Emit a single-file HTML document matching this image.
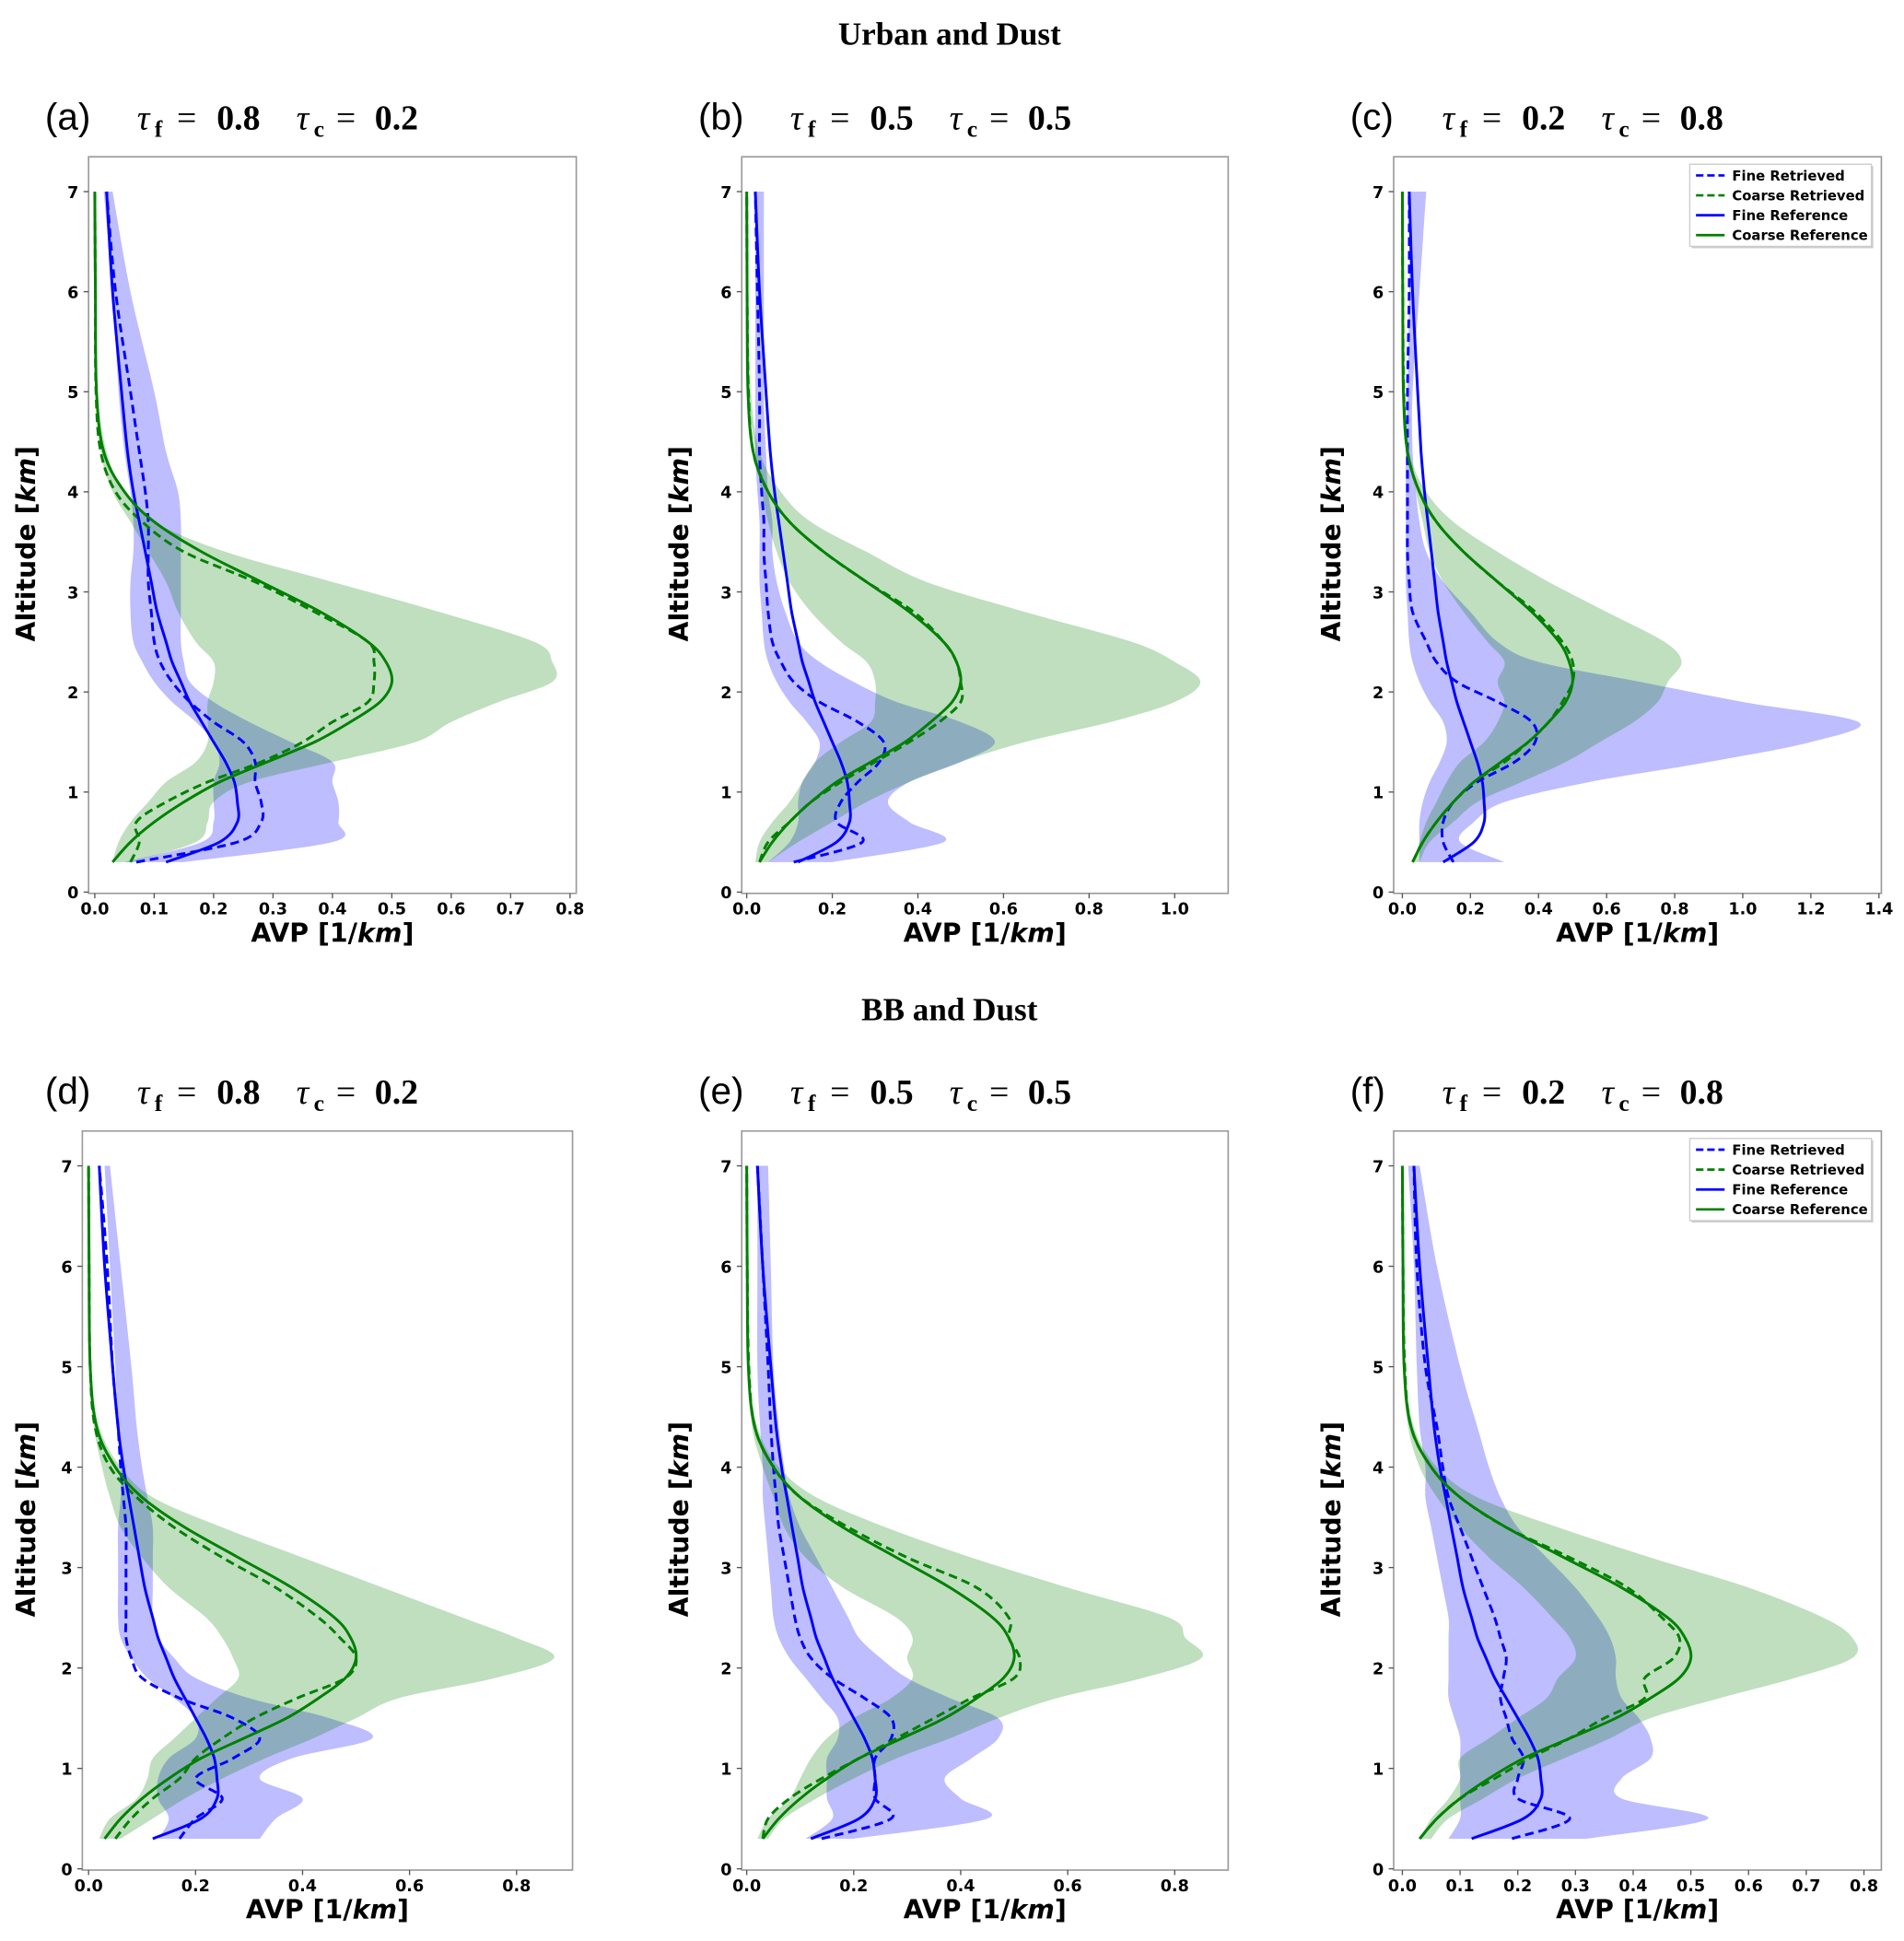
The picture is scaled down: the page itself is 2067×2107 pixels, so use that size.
<!DOCTYPE html>
<html><head><meta charset="utf-8"><style>
html,body{margin:0;padding:0;background:#fff;}
svg{display:block;}
</style></head><body>
<svg id="fig" width="2067" height="2107" viewBox="0 0 1530 1560" xmlns="http://www.w3.org/2000/svg">
<text x="763" y="36" text-anchor="middle" font-family="Liberation Serif, serif" font-weight="bold" font-size="26">Urban and Dust</text>
<text x="763" y="820" text-anchor="middle" font-family="Liberation Serif, serif" font-weight="bold" font-size="26">BB and Dust</text>
</svg>
<script>
const alts = [0.3,0.5,0.7,0.9,1.1,1.3,1.5,1.7,1.9,2.1,2.3,2.5,2.8,3.1,3.4,3.7,4.0,4.4,5.0,6.0,7.0];
const fineRef = [0.12,0.21,0.24,0.24,0.235,0.22,0.2,0.18,0.16,0.145,0.13,0.12,0.105,0.095,0.085,0.075,0.065,0.055,0.045,0.03,0.02];
const coarseRef = [0.03,0.06,0.1,0.15,0.21,0.29,0.37,0.43,0.48,0.5,0.49,0.46,0.38,0.28,0.18,0.1,0.05,0.015,0.003,0.001,0];

const aFineRet = [0.07,0.24,0.28,0.28,0.27,0.27,0.25,0.2,0.16,0.13,0.11,0.1,0.095,0.09,0.09,0.09,0.085,0.075,0.06,0.035,0.02];
const aCoarseRet = [0.06,0.075,0.07,0.12,0.19,0.28,0.35,0.4,0.46,0.47,0.47,0.46,0.37,0.27,0.15,0.08,0.035,0.01,0.002,0.001,0];
const aFineLo = [0.05,0.18,0.2,0.2,0.2,0.21,0.2,0.17,0.13,0.1,0.08,0.065,0.06,0.06,0.065,0.065,0.06,0.05,0.04,0.03,0.015];
const aFineHi = [0.15,0.4,0.41,0.41,0.4,0.4,0.33,0.26,0.2,0.16,0.15,0.145,0.145,0.145,0.145,0.145,0.14,0.12,0.1,0.06,0.03];
const aCoarseLo = [0.03,0.04,0.06,0.09,0.12,0.17,0.19,0.19,0.19,0.2,0.2,0.17,0.14,0.12,0.09,0.06,0.03,0.01,0.003,0,0];
const aCoarseHi = [0.06,0.17,0.19,0.2,0.26,0.4,0.54,0.6,0.68,0.77,0.77,0.74,0.58,0.4,0.22,0.1,0.05,0.02,0.005,0.002,0.001];

const bFineRet = [0.11,0.27,0.21,0.22,0.26,0.31,0.32,0.26,0.17,0.11,0.08,0.06,0.05,0.045,0.04,0.04,0.035,0.03,0.03,0.025,0.02];
const bCoarseRet = [0.03,0.05,0.1,0.15,0.22,0.3,0.38,0.45,0.5,0.5,0.49,0.46,0.39,0.28,0.18,0.1,0.05,0.015,0.004,0.001,0];
const bFineLo = [0.05,0.1,0.12,0.12,0.13,0.16,0.17,0.14,0.1,0.07,0.05,0.04,0.035,0.03,0.03,0.03,0.025,0.02,0.02,0.02,0.02];
const bFineHi = [0.2,0.46,0.38,0.33,0.38,0.5,0.58,0.5,0.35,0.25,0.17,0.12,0.09,0.07,0.06,0.06,0.05,0.045,0.04,0.04,0.04];
const bCoarseLo = [0.02,0.03,0.06,0.1,0.13,0.16,0.22,0.29,0.3,0.3,0.28,0.22,0.15,0.1,0.07,0.05,0.035,0.02,0.005,0.002,0];
const bCoarseHi = [0.05,0.12,0.2,0.28,0.38,0.5,0.65,0.85,1.0,1.06,1.0,0.9,0.65,0.42,0.28,0.15,0.08,0.03,0.01,0.003,0.001];

const cFineRet = [0.15,0.12,0.12,0.15,0.22,0.33,0.39,0.38,0.28,0.16,0.1,0.07,0.03,0.02,0.015,0.015,0.015,0.015,0.015,0.02,0.02];
const cCoarseRet = [0.03,0.06,0.1,0.15,0.21,0.3,0.37,0.43,0.47,0.5,0.5,0.47,0.39,0.28,0.18,0.1,0.05,0.015,0.004,0.001,0];
const cFineLo = [0.05,0.05,0.05,0.06,0.08,0.11,0.13,0.12,0.08,0.05,0.03,0.02,0.015,0.01,0.01,0.01,0.01,0.01,0.015,0.02,0.02];
const cFineHi = [0.3,0.17,0.21,0.3,0.55,0.9,1.2,1.34,1.0,0.7,0.4,0.28,0.2,0.12,0.07,0.05,0.04,0.03,0.03,0.05,0.07];
const cCoarseLo = [0.03,0.05,0.07,0.1,0.13,0.17,0.24,0.28,0.3,0.28,0.3,0.25,0.18,0.12,0.08,0.06,0.04,0.02,0.005,0.001,0];
const cCoarseHi = [0.05,0.08,0.15,0.22,0.35,0.48,0.58,0.68,0.75,0.78,0.82,0.77,0.6,0.43,0.28,0.15,0.07,0.02,0.005,0.001,0];

const dFineRet = [0.17,0.2,0.25,0.2,0.27,0.32,0.27,0.17,0.1,0.08,0.07,0.07,0.07,0.07,0.07,0.065,0.06,0.055,0.045,0.035,0.02];
const dCoarseRet = [0.05,0.08,0.12,0.17,0.2,0.25,0.31,0.39,0.48,0.5,0.47,0.43,0.35,0.25,0.16,0.09,0.04,0.012,0.003,0.001,0];
const dFineLo = [0.13,0.15,0.13,0.13,0.15,0.2,0.2,0.16,0.11,0.08,0.06,0.055,0.055,0.055,0.055,0.06,0.06,0.055,0.05,0.04,0.03];
const dFineHi = [0.32,0.35,0.4,0.32,0.38,0.53,0.45,0.3,0.2,0.16,0.13,0.12,0.12,0.12,0.12,0.11,0.1,0.09,0.08,0.06,0.04];
const dCoarseLo = [0.02,0.04,0.09,0.11,0.12,0.16,0.2,0.24,0.28,0.27,0.25,0.22,0.15,0.1,0.06,0.04,0.025,0.01,0.002,0,0];
const dCoarseHi = [0.06,0.12,0.18,0.25,0.33,0.42,0.5,0.58,0.76,0.87,0.8,0.7,0.55,0.4,0.25,0.12,0.06,0.02,0.005,0.001,0];

const eFineRet = [0.14,0.27,0.24,0.24,0.24,0.27,0.27,0.22,0.16,0.12,0.1,0.09,0.08,0.07,0.06,0.055,0.05,0.045,0.04,0.03,0.02];
const eCoarseRet = [0.03,0.04,0.08,0.14,0.21,0.28,0.35,0.42,0.5,0.51,0.49,0.49,0.43,0.3,0.19,0.1,0.05,0.015,0.004,0.001,0];
const eFineLo = [0.11,0.16,0.15,0.15,0.15,0.17,0.17,0.14,0.11,0.08,0.06,0.05,0.045,0.04,0.035,0.03,0.03,0.025,0.02,0.02,0.02];
const eFineHi = [0.2,0.45,0.4,0.37,0.42,0.47,0.47,0.38,0.3,0.25,0.21,0.19,0.16,0.13,0.1,0.08,0.07,0.06,0.05,0.045,0.04];
const eCoarseLo = [0.02,0.04,0.08,0.1,0.12,0.15,0.2,0.27,0.31,0.3,0.31,0.28,0.18,0.11,0.07,0.05,0.03,0.01,0.003,0,0];
const eCoarseHi = [0.04,0.07,0.13,0.2,0.28,0.38,0.47,0.58,0.74,0.85,0.82,0.79,0.6,0.42,0.26,0.13,0.06,0.02,0.004,0.001,0];

const fFineRet = [0.19,0.29,0.2,0.2,0.21,0.19,0.18,0.17,0.175,0.18,0.17,0.16,0.14,0.12,0.1,0.08,0.07,0.06,0.04,0.025,0.02];
const fCoarseRet = [0.03,0.06,0.1,0.16,0.22,0.29,0.35,0.42,0.42,0.47,0.48,0.45,0.39,0.29,0.18,0.1,0.05,0.015,0.004,0.001,0];
const fFineLo = [0.08,0.1,0.1,0.1,0.1,0.1,0.09,0.08,0.08,0.08,0.08,0.08,0.07,0.06,0.05,0.04,0.04,0.03,0.025,0.02,0.01];
const fFineHi = [0.32,0.53,0.38,0.38,0.43,0.43,0.41,0.38,0.37,0.37,0.36,0.34,0.3,0.25,0.2,0.17,0.15,0.13,0.1,0.06,0.03];
const fCoarseLo = [0.03,0.05,0.08,0.1,0.1,0.15,0.2,0.25,0.27,0.3,0.29,0.26,0.21,0.15,0.1,0.06,0.03,0.01,0.002,0,0];
const fCoarseHi = [0.05,0.08,0.14,0.2,0.28,0.36,0.43,0.55,0.68,0.78,0.78,0.73,0.6,0.43,0.27,0.13,0.06,0.02,0.005,0.001,0];

const yTicks = [0,1,2,3,4,5,6,7];
const xTicksA = ["0.0","0.1","0.2","0.3","0.4","0.5","0.6","0.7","0.8"];
const xTicksB = ["0.0","0.2","0.4","0.6","0.8","1.0"];
const xTicksC = ["0.0","0.2","0.4","0.6","0.8","1.0","1.2","1.4"];
const xTicksD = ["0.0","0.2","0.4","0.6","0.8"];
const xTicksF = ["0.0","0.1","0.2","0.3","0.4","0.5","0.6","0.7","0.8"];
const legendLabels = ["Fine Retrieved","Coarse Retrieved","Fine Reference","Coarse Reference"];

const NS = "http://www.w3.org/2000/svg";
const svg = document.getElementById('fig');
function mk(tag, attrs, parent){
  const e = document.createElementNS(NS, tag);
  for (const k in attrs) e.setAttribute(k, attrs[k]);
  (parent||svg).appendChild(e);
  return e;
}
function smoothPath(pts){
  let d = "M" + pts[0][0].toFixed(1) + "," + pts[0][1].toFixed(1);
  for (let i=0;i<pts.length-1;i++){
    const p0 = pts[Math.max(0,i-1)], p1 = pts[i], p2 = pts[i+1], p3 = pts[Math.min(pts.length-1,i+2)];
    const c1x = p1[0]+(p2[0]-p0[0])/6, c1y = p1[1]+(p2[1]-p0[1])/6;
    const c2x = p2[0]-(p3[0]-p1[0])/6, c2y = p2[1]-(p3[1]-p1[1])/6;
    d += " C"+c1x.toFixed(1)+","+c1y.toFixed(1)+" "+c2x.toFixed(1)+","+c2y.toFixed(1)+" "+p2[0].toFixed(1)+","+p2[1].toFixed(1);
  }
  return d;
}

const panels = [
  {id:'a', label:'(a)', tf:'0.8', tc:'0.2', hx:36, left:71, right:463, top:126, bottom:718, x0:76, s:477.5, ticks:xTicksA, fr:aFineRet, cr:aCoarseRet, fl:aFineLo, fh:aFineHi, cl:aCoarseLo, ch:aCoarseHi, legend:false},
  {id:'b', label:'(b)', tf:'0.5', tc:'0.5', hx:561, left:596, right:987, top:126, bottom:718, x0:600, s:344, ticks:xTicksB, fr:bFineRet, cr:bCoarseRet, fl:bFineLo, fh:bFineHi, cl:bCoarseLo, ch:bCoarseHi, legend:false},
  {id:'c', label:'(c)', tf:'0.2', tc:'0.8', hx:1085, left:1120, right:1512, top:126, bottom:718, x0:1127, s:273.6, ticks:xTicksC, fr:cFineRet, cr:cCoarseRet, fl:cFineLo, fh:cFineHi, cl:cCoarseLo, ch:cCoarseHi, legend:true},
  {id:'d', label:'(d)', tf:'0.8', tc:'0.2', hx:36, left:66, right:460, top:909, bottom:1503, x0:71, s:430, ticks:xTicksD, fr:dFineRet, cr:dCoarseRet, fl:dFineLo, fh:dFineHi, cl:dCoarseLo, ch:dCoarseHi, legend:false},
  {id:'e', label:'(e)', tf:'0.5', tc:'0.5', hx:561, left:596, right:987, top:909, bottom:1503, x0:600, s:430, ticks:xTicksD, fr:eFineRet, cr:eCoarseRet, fl:eFineLo, fh:eFineHi, cl:eCoarseLo, ch:eCoarseHi, legend:false},
  {id:'f', label:'(f)', tf:'0.2', tc:'0.8', hx:1085, left:1120, right:1512, top:909, bottom:1503, x0:1127, s:463.75, ticks:xTicksF, fr:fFineRet, cr:fCoarseRet, fl:fFineLo, fh:fFineHi, cl:fCoarseLo, ch:fCoarseHi, legend:true}
];

panels.forEach(p => {
  const g = mk('g', {});
  
  
  const xS = v => p.x0 + v * p.s;
  const yS = v => (p.bottom - 1) - v * (p.bottom - p.top - 29) / 7;

  const hy = p.top - 22;
  const lab = mk('text', {x: p.hx, y: hy, 'font-family':'Liberation Sans, sans-serif', 'font-size':30}, g);
  lab.textContent = p.label;
  
  
  const tau = mk('text', {x: 0, y: hy, 'font-family':'Liberation Serif, serif', 'font-size':28}, g);
  
  
  const b = p.hx + 74;
  tau.innerHTML = '<tspan x="'+b+'" font-style="italic">τ</tspan>' +
    '<tspan x="'+(b+14)+'" dy="6" font-weight="bold" font-size="19">f</tspan>' +
    '<tspan x="'+(b+32)+'" dy="-6">=</tspan>' +
    '<tspan x="'+(b+64)+'" font-weight="bold">' + p.tf + '</tspan>' +
    '<tspan x="'+(b+128)+'" font-style="italic">τ</tspan>' +
    '<tspan x="'+(b+142)+'" dy="6" font-weight="bold" font-size="19">c</tspan>' +
    '<tspan x="'+(b+160)+'" dy="-6">=</tspan>' +
    '<tspan x="'+(b+191)+'" font-weight="bold">' + p.tc + '</tspan>';

  function band(lo, hi, fill, name){
    const ptsHi = alts.map((a,i)=>[xS(hi[i]), yS(a)]);
    const ptsLo = alts.map((a,i)=>[xS(lo[i]), yS(a)]).reverse();
    let d = smoothPath(ptsHi);
    d += " L" + smoothPath(ptsLo).slice(1) + " Z";
    const bb = mk('path', {d: d, fill: fill, stroke:'none'}, g);
    
    
  }
  band(p.fl, p.fh, 'rgba(0,0,255,0.26)', 'fine-uncertainty-band');
  band(p.cl, p.ch, 'rgba(0,128,0,0.25)', 'coarse-uncertainty-band');

  function line(vals, color, dash, name){
    const pts = alts.map((a,i)=>[xS(vals[i]), yS(a)]);
    const l = mk('path', {d: smoothPath(pts), fill:'none', stroke:color, 'stroke-width':2.2}, g);
    if (dash) l.setAttribute('stroke-dasharray', '7,4');
    
    
  }
  line(p.fr, '#0000ff', true, 'fine-retrieved-line');
  line(p.cr, '#008000', true, 'coarse-retrieved-line');
  line(fineRef, '#0000ff', false, 'fine-reference-line');
  line(coarseRef, '#008000', false, 'coarse-reference-line');

  const fr = mk('rect', {x:p.left, y:p.top, width:p.right-p.left, height:p.bottom-p.top, fill:'none', stroke:'#999', 'stroke-width':1.2}, g);
  
  

  yTicks.forEach(t => {
    mk('line', {x1:p.left-4, x2:p.left, y1:yS(t), y2:yS(t), stroke:'#555', 'stroke-width':1}, g);
    const tl = mk('text', {x:p.left-8, y:yS(t)+5, 'text-anchor':'end', 'font-family':'DejaVu Sans, sans-serif', 'font-weight':'bold', 'font-size':13}, g);
    tl.textContent = t;
    
    
  });
  p.ticks.forEach(t => {
    const xv = xS(parseFloat(t));
    mk('line', {x1:xv, x2:xv, y1:p.bottom, y2:p.bottom+4, stroke:'#555', 'stroke-width':1}, g);
    const tl = mk('text', {x:xv, y:p.bottom+17, 'text-anchor':'middle', 'font-family':'DejaVu Sans, sans-serif', 'font-weight':'bold', 'font-size':13}, g);
    tl.textContent = t;
    
    
  });
  const cx = (p.left + p.right) / 2;
  const xl = mk('text', {x:cx, y:p.bottom+39, 'text-anchor':'middle', 'font-family':'DejaVu Sans, sans-serif', 'font-weight':'bold', 'font-size':21}, g);
  xl.innerHTML = 'AVP [1/<tspan font-style="italic">km</tspan>]';
  
  
  const cy = (p.top + p.bottom) / 2 + 15;
  const yl = mk('text', {x:0, y:0, transform:'translate(' + (p.hx-8) + ',' + cy + ') rotate(-90)', 'text-anchor':'middle', 'font-family':'DejaVu Sans, sans-serif', 'font-weight':'bold', 'font-size':21}, g);
  yl.innerHTML = 'Altitude [<tspan font-style="italic">km</tspan>]';
  
  

  if (p.legend){
    const lg = mk('g', {}, g);
    
    
    const lx = p.right - 154, ly = p.top + 6;
    mk('rect', {x:lx+1.5, y:ly+1.5, width:146, height:66, fill:'#ccc'}, lg);
    mk('rect', {x:lx, y:ly, width:146, height:66, fill:'#fff', stroke:'#ccc', 'stroke-width':1}, lg);
    const cols = ['#0000ff','#008000','#0000ff','#008000'];
    legendLabels.forEach((t,i) => {
      const yy = ly + 9 + i*16;
      const ln = mk('line', {x1:lx+5, x2:lx+28, y1:yy, y2:yy, stroke:cols[i], 'stroke-width':2}, lg);
      if (i < 2) ln.setAttribute('stroke-dasharray', '6,3');
      const tx = mk('text', {x:lx+34, y:yy+4, 'font-family':'DejaVu Sans, sans-serif', 'font-weight':'bold', 'font-size':11}, lg);
      tx.textContent = t;
      
      
    });
  }
});
</script>
</body></html>
